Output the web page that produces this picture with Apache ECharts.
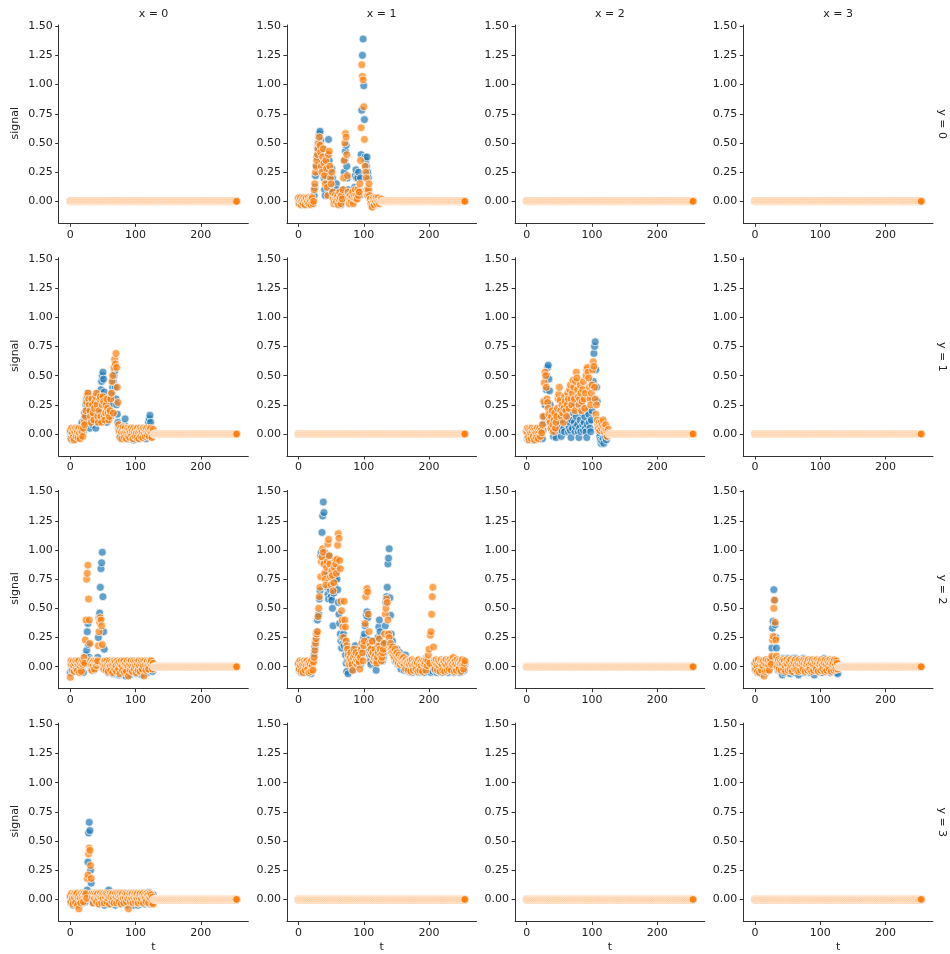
<!DOCTYPE html>
<html><head><meta charset="utf-8">
<script src="https://cdn.jsdelivr.net/npm/echarts@6/dist/echarts.min.js"></script>
<style>html,body{margin:0;padding:0;background:#fff}#c{width:950px;height:954px}</style>
</head><body><div id="c"></div>
<script>
// ---- data ----
const colLabels = ['x = 0','x = 1','x = 2','x = 3'];
const rowLabels = ['y = 0','y = 1','y = 2','y = 3'];
const tTicks = [0,100,200];
const signalTicks = [0,0.25,0.5,0.75,1.0,1.25,1.5];
const tCount = 256;           // t = 0..255, value 0 where not listed
const seriesNames = ['a','b'];

// row y=0, col x=1
const blue_y0_x1 = [.02,-.02,.03,.01,-.03,.02,0,-.02,.03,.01, -.01,.02,-.03,.02,0,.03,-.02,.01,.02,-.01,
 .03,0,-.02,.02,.05,.12,.22,.30,.38,.45, .50,.55,.58,.60,.52,.42,.33,.45,.28,.20,
 .10,.05,.30,.22,.15,.40,.53,.35,.25,.18, .12,.28,.20,.08,.03,0,.02,.05,.15,.10,
 .02,-.02,0,.03,.05,-.03,.02,0,.05,.10, .25,.35,.43,.48,.30,.20,.10,.05,.02,0,
 .03,-.01,.05,0,.02,.08,.12,.22,.27,.20, .08,.20,.25,.10,.05,.20,.40,.78,1.25,1.39,
 .99,.70,.38,.35,.30,.38,.25,.20,.10,.05, .02,0,-.02,.03,-.03,.01,-.02,.02,0,-.03,
 .01,-.02,0,.02,-.01,0,.01,0];
const orange_y0_x1 = [.03,-.02,.01,.03,-.03,0,.02,-.02,.03,.01, -.03,.02,.03,-.01,0,.03,-.02,.02,.01,-.03,
 .02,.03,-.02,0,.10,.15,.25,.30,.35,.40, .45,.50,.55,.48,.42,.30,.25,.38,.45,.33,
 .22,.15,.35,.28,.12,.05,.40,.43,.30,.20, .15,.25,.08,.02,-.02,0,.05,.02,0,.03,
 .05,-.03,.02,.08,.03,-.02,.05,.02,.10,.20, .35,.50,.58,.55,.40,.22,.08,.03,-.02,.05,
 .02,0,.04,.08,-.02,.03,.05,.10,.02,.05, .02,.10,.05,.08,.15,.35,.63,1.17,1.07,1.04,
 .81,.53,.30,.25,.20,.10,.05,.10,.15,.05, .02,-.02,-.04,-.05,.02,.03,-.03,.02,0,.03,
 -.02,.01,.03,0,-.02,.01,0,.02];

// row y=1, col x=0
const blue_y1_x0 = [.02,-.03,.04,-.05,.01,.03,-.02,.05,-.04,.02, -.01,.04,-.03,.02,.05,-.02,.03,.08,.10,.05,
 .02,.12,.18,.15,.25,.30,.22,.35,.28,.10, .05,.20,.30,.12,.08,.25,.18,.30,.15,.05,
 .10,.22,.28,.35,.18,.12,.30,.38,.45,.50, .53,.47,.36,.25,.20,.15,.10,.18,.25,.30,
 .28,.20,.15,.25,.35,.40,.45,.50,.54,.40, .30,.25,.17,.10,.05,.02,-.02,.03,-.04,.05,
 .02,-.03,.04,.08,.13,.05,-.02,.03,.01,-.04, .03,-.02,.05,.02,-.03,.04,.01,-.05,.02,.03,
 -.02,.04,.01,-.03,.05,.02,-.04,.03,0,.02, -.03,.04,.01,-.02,.05,.03,-.04,.02,.04,.06,
 .10,.13,.16,.10,.04,.02,-.02,0];
const orange_y1_x0 = [.03,-.04,.05,.01,-.03,.04,-.05,.02,.05,-.02, .04,.02,-.03,.05,.01,-.04,.03,.05,.02,-.02,
 .05,.10,.08,.15,.20,.27,.33,.35,.30,.25, .20,.15,.10,.30,.25,.18,.12,.22,.28,.32,
 .35,.25,.15,.10,.20,.30,.32,.15,.10,.25, .32,.28,.15,.12,.18,.25,.30,.22,.18,.12,
 .15,.20,.30,.35,.45,.50,.18,.57,.64,.60, .69,.57,.40,.27,.08,.03,-.03,.05,.02,-.04,
 .04,.06,.01,-.03,.05,.02,-.04,.03,.05,-.02, .04,-.03,.02,.05,-.01,.03,-.04,.05,.02,-.02,
 .04,.01,-.03,.05,.02,-.04,.03,.05,-.02,.04, .02,-.03,.05,.01,.04,-.02,.03,.05,-.01,.02,
 .04,-.02,.03,.05,.01,-.03,.02,.04];

// row y=1, col x=2
const blue_y1_x2 = [.03,-.04,.02,-.05,.04,.01,-.03,.05,-.02,.03, -.05,.02,.04,-.03,.01,.05,-.04,.03,-.02,.04,
 .01,-.03,.05,.02,-.04,.03,.09,.15,.25,.28, .38,.50,.57,.59,.47,.37,.25,.15,.08,.03,
 .05,-.02,.03,.10,.02,-.03,.05,.12,.20,.03, .08,.15,.05,-.02,.03,.12,.22,.05,.02,.25,
 .29,.20,.15,.08,.02,.05,.10,.03,-.03,.12, .05,.18,.25,.10,.02,.06,.15,.30,.08,.02,
 -.03,.05,.12,.02,.25,.18,.08,.03,.10,.15, .05,.02,-.03,.08,.20,.17,.10,.05,.02,.12,
 .20,.30,.45,.69,.75,.79,.55,.40,.28,.10, .05,.02,-.02,-.05,-.08,-.06,.03,-.04,-.08,.01,
 -.03,.02,-.05,.01,-.02,.03,0,-.01];
const orange_y1_x2 = [.02,.05,-.03,.04,-.05,.03,.01,-.04,.05,.02, -.02,.04,-.05,.03,.01,-.03,.05,.02,-.04,.03,
 .05,-.02,.03,.01,.08,.15,.28,.44,.53,.50, .40,.30,.27,.22,.17,.12,.10,.05,.15,.20,
 .08,.02,.12,.18,.05,.10,.15,.22,.30,.34, .40,.29,.20,.15,.25,.18,.10,.22,.32,.28,
 .20,.15,.25,.35,.30,.22,.38,.42,.30,.25, .35,.46,.40,.30,.20,.45,.53,.48,.38,.32,
 .25,.30,.42,.35,.20,.28,.38,.45,.30,.22, .35,.50,.55,.57,.53,.48,.40,.30,.25,.35,
 .42,.55,.62,.58,.40,.30,.17,.25,.12,.08, .05,.10,.03,.07,.10,.05,.08,.12,.06,.02,
 .05,.08,.03,-.02,.02,.04,0,.01];

// row y=2, col x=0
const blue_y2_x0 = [-.05,.02,-.03,.04,.01,-.04,.03,.02,-.02,.04, .01,-.03,.05,.02,-.04,.03,.01,-.02,.05,.03,
 -.05,.02,.04,.03,.10,.14,.30,.37,.19,.08, .06,.02,-.02,.04,.01,.05,-.03,.02,.04,.01,
 .03,.05,.08,.25,.42,.46,.68,.84,.89,.98, .60,.30,.15,.05,.02,-.03,.04,.01,-.05,.03,
 .02,-.04,.05,.01,-.03,.04,-.06,.02,.05,-.02, .03,-.05,.01,.04,-.02,-.07,.03,.05,-.04,.01,
 .04,-.06,.02,-.03,.05,-.08,.01,.03,-.04,.05, -.02,.04,-.07,.01,.05,-.03,.02,-.05,.04,.01,
 -.03,.05,-.06,.02,.04,-.02,.03,-.05,.01,.04, -.07,.02,.05,-.03,.01,.04,-.02,.03,-.05,.02,
 .04,-.03,.01,.05,-.02,.03,-.04,.01];
const orange_y2_x0 = [-.09,.05,.02,-.03,.04,.01,-.04,.03,.05,-.02, .04,-.03,.02,.05,-.05,.01,.03,-.04,.05,.02,
 .04,.08,.03,.23,.40,.75,.80,.87,.58,.40, .20,.05,.02,-.03,.04,.01,.05,-.02,.03,.05,
 .01,.04,.05,.18,.30,.38,.42,.40,.35,.19, .03,-.02,.04,.05,.01,-.03,.05,.02,-.04,.03,
 .05,.01,-.03,.04,.02,-.05,.03,.05,-.02,.04, .01,-.04,.05,.03,-.02,.04,-.06,.02,.05,.01,
 -.03,.04,.05,-.05,.02,.03,-.04,.05,.01,-.08, .04,.02,-.03,.05,.01,-.04,.03,.05,-.02,.04,
 .01,-.05,.04,.02,-.03,.05,.01,-.04,.03,.05, -.02,.04,.01,-.08,.05,.02,-.03,.04,.05,.01,
 -.02,.04,.05,.03,.05,.01,-.02,.03];

// row y=2, col x=1 (full range)
const blue_y2_x1 = [.02,-.03,.04,.01,-.05,.03,-.02,.04,-.04,.02, -.05,.03,.01,-.03,.04,-.02,.03,-.04,.02,-.06,
 .01,-.03,.05,.08,.11,.17,.22,.28,.30,.40, .43,.45,.58,.65,.95,.98,1.15,1.29,1.41,1.32,
 .98,.92,.88,.80,.68,.62,.58,.95,.72,.66, .60,.57,.50,.35,.63,.70,.75,.80,.84,.75,
 .66,.55,.45,.37,.28,.22,.16,.25,.20,.28, .18,.22,.10,.03,-.04,.05,-.06,.12,.08,.03,
 .05,.10,.02,-.03,.04,.07,.12,.18,.10,.05, .02,.08,.15,.12,.05,.02,.08,.10,.15,.22,
 .25,.28,.35,.20,.44,.47,.42,.23,.15,.10, .05,.02,.10,.18,.22,.15,.08,.05,.02,-.03,
 .05,.10,.25,.34,.40,.30,.20,.15,.10,.05, .08,.12,.20,.35,.55,.60,.68,.88,.93,1.01,
 .59,.44,.28,.18,.22,.15,.10,.12,.05,.08, .10,.15,.05,.02,.08,.12,.04,-.02,.05,.03,
 .08,.02,-.03,.05,.10,.04,-.02,.03,.06,-.04, .02,.05,-.03,.04,.01,-.05,.03,.02,-.04,.05,
 .01,-.03,.04,.02,-.05,.03,.01,-.04,.05,.02, -.03,.04,.01,-.05,.03,.07,.02,-.04,.05,.01,
 -.03,.04,.02,-.05,.03,.01,-.04,.05,.02,-.03, .04,.01,-.05,.03,.02,-.04,.05,.01,-.03,.04,
 .02,-.05,.03,.01,-.04,.05,.02,-.03,.04,.01, -.05,.03,.02,-.04,.05,.01,-.03,.04,.02,-.05,
 .03,.01,-.04,.05,.02,-.03,.04,.01,-.05,.03, .02,-.04,.05,.01,-.03,.02];
const orange_y2_x1 = [.03,-.02,.05,.01,-.04,.04,.02,-.05,.03,.05, -.03,.04,.01,.05,-.02,.03,-.05,.04,.02,-.04,
 .05,.01,-.03,.04,.08,.14,.20,.24,.28,.30, .43,.50,.60,.68,.77,.90,.94,1.01,.98,.88,
 .80,.75,.70,.85,.90,1.05,1.09,.95,.88,.77, .70,.82,.78,.65,.72,.85,.91,.88,.80,.92,
 1.04,1.14,1.10,.91,.84,.56,.48,.40,.34,.25, .56,.40,.34,.22,.18,.15,.10,.05,.02,.08,
 .12,.05,.02,-.03,.08,.15,.10,.04,.12,.06, .02,.05,.10,.04,-.02,.08,.15,.20,.12,.05,
 .18,.22,.37,.60,.65,.67,.64,.45,.30,.20, .18,.15,.10,.22,.12,.05,.08,.15,.10,.05,
 .03,.08,.12,.18,.24,.15,.10,.05,.08,.12, .15,.20,.28,.45,.50,.58,.55,.40,.28,.25,
 .17,.20,.15,.12,.17,.10,.13,.08,.15,.11, .05,.12,.08,.03,.10,.06,.02,.08,.04,.07,
 .03,.08,.02,.05,-.02,.06,.03,.04,-.03,.05, .02,.05,-.04,.03,.06,.01,-.03,.05,.02,.04,
 -.02,.05,.03,-.04,.06,.02,-.03,.04,.01,.05, -.04,.03,.05,.02,.04,-.03,.06,.01,.05,.10,
 .15,.03,.27,.30,.45,.60,.68,.17,.05,-.02, .04,.06,.02,-.03,.05,.01,.04,-.04,.03,.06,
 .02,-.03,.05,.04,-.04,.02,.06,.01,-.03,.05, .03,-.02,.06,.04,-.03,.05,.02,.08,.04,-.04,
 .05,.02,-.03,.06,.01,.04,-.02,.05,.03,-.04, .04,.06,.01,-.02,.03,.05];

// row y=2, col x=3
const blue_y2_x3 = [.02,-.03,.04,.01,-.05,.03,-.02,.04,-.04,.02, -.06,.03,.01,-.03,.04,-.02,.03,-.05,.02,.05,
 .01,-.03,.04,.02,.05,.07,.16,.33,.39,.66, .57,.36,.25,.16,.05,.02,-.03,.04,.06,.01,
 -.04,.03,-.07,.07,.02,-.05,.04,.01,-.03,.05, .07,-.02,.03,.05,-.06,.02,.04,-.03,.07,.01,
 -.05,.03,.07,.02,-.04,.05,.01,-.07,.03,.04, -.02,.05,.01,-.04,.07,.03,-.05,.02,.04,-.03,
 .01,.05,-.04,.03,.02,-.05,.04,.01,-.03,.05, .02,-.07,.04,.03,-.02,.05,.01,-.04,.03,.05,
 -.03,.02,.04,-.05,.01,.03,.07,-.02,.04,.01, -.04,.05,.02,-.03,.04,.01,-.05,.03,.02,-.04,
 .04,.01,-.03,.05,.02,-.05,.03,-.06];
const orange_y2_x3 = [.03,-.02,.05,.01,-.04,.06,.02,-.05,.03,.05, -.03,.04,.01,.05,-.08,.03,-.04,.06,.02,-.03,
 .05,.01,-.03,.04,.06,.02,.09,.23,.26,.50, .57,.38,.23,.09,0,.04,.06,-.02,.03,.05,
 -.03,.04,.02,.06,-.02,.05,.01,-.04,.03,.06, .02,-.03,.05,.04,-.02,.06,.01,-.04,.03,.05,
 .04,-.02,.06,.01,-.03,.05,.03,-.04,.06,.02, -.03,.05,.01,.04,-.02,.06,.03,-.04,.05,.02,
 .04,-.03,.06,.01,-.02,.05,.03,-.04,.06,.02, -.03,.05,.01,.04,-.02,.06,.03,-.04,.05,.02,
 .04,-.03,.06,.01,-.02,.05,.03,-.04,.06,.02, -.03,.05,.01,.04,-.02,.06,.03,-.04,.05,.02,
 .04,-.03,.06,.01,-.02,.05,.03,-.02];

// row y=3, col x=0
const blue_y3_x0 = [.02,-.03,.04,.01,-.05,.03,-.02,.04,-.04,.02, -.03,.05,.01,-.04,.04,-.02,.03,.05,.02,-.03,
 .01,.05,.04,-.02,.05,.03,.08,.32,.57,.66, .59,.25,.14,.05,.02,-.03,.04,.01,.05,-.02,
 .04,.01,-.03,.05,.02,-.04,.03,.05,.01,-.03, .04,.02,-.05,.03,.01,.05,-.02,.04,.06,.08,
 .05,.02,-.04,.03,.05,.01,-.03,.04,.02,-.05, .03,.05,.01,-.03,.04,.02,-.04,.05,.01,.03,
 -.02,.04,.05,.01,-.04,.03,.02,-.05,.04,.01, .03,-.03,.05,.02,-.04,.04,.01,-.05,.03,.02,
 .05,-.02,.04,.01,-.05,.03,.02,-.04,.05,.01, -.03,.04,.02,.05,-.04,.01,.03,-.02,.05,.04,
 .06,.02,-.04,.03,.01,-.03,.02,.04];
const orange_y3_x0 = [.03,-.02,.05,.01,-.04,.04,.02,.05,-.03,.04, .05,-.05,.02,-.08,.04,.01,-.03,.05,.02,.04,
 -.02,.05,.03,.04,.05,.01,.18,.21,.39,.44, .42,.29,.18,.05,.02,-.03,.05,.01,.04,.05,
 -.02,.04,.05,.01,-.04,.03,.05,.02,-.03,.04, .01,.05,-.03,.04,.02,.05,-.02,.04,.01,.03,
 -.04,.05,.02,.04,-.02,.05,.01,-.03,.04,.05, .02,-.03,.05,.01,.04,-.02,.05,.03,-.04,.04,
 .05,.01,-.03,.04,.02,.05,-.02,.04,.01,-.08, .03,.05,-.02,.04,.01,.05,-.03,.02,.04,.05,
 -.02,.04,.01,.05,-.03,.02,.04,.05,-.02,.01, .04,.05,-.03,.02,.04,.01,-.02,.05,.03,.04,
 -.03,.02,.05,.01,.04,-.03,.02,-.04];

// facet -> [blue values, orange values]; facets not listed are flat at 0
const facetData = {
  '0,1': [blue_y0_x1, orange_y0_x1],
  '1,0': [blue_y1_x0, orange_y1_x0],
  '1,2': [blue_y1_x2, orange_y1_x2],
  '2,0': [blue_y2_x0, orange_y2_x0],
  '2,1': [blue_y2_x1, orange_y2_x1],
  '2,3': [blue_y2_x3, orange_y2_x3],
  '3,0': [blue_y3_x0, orange_y3_x0]
};

// ---- layout / style ----
const FONT = '"DejaVu Sans", sans-serif';
const FS = 11;
const TXT = '#222';
const AX = '#333';
const colors = ['#1f77b4', '#ff7f0e'];
const gridLeft = [58.7, 286.9, 515.1, 743.3];
const gridTop = [25, 257.7, 490.4, 723.1];
const gW = 189.6, gH = 198.3;

function toPoints(vals) {
  const pts = [];
  for (let t = 0; t < tCount; t++) pts.push([t, (vals && t < vals.length) ? vals[t] : 0]);
  return pts;
}

const grid = [], xAxis = [], yAxis = [], series = [], graphic = [];
for (let r = 0; r < 4; r++) {
  for (let c = 0; c < 4; c++) {
    const i = r * 4 + c;
    grid.push({left: gridLeft[c], top: gridTop[r], width: gW, height: gH, containLabel: false});
    const axisCommon = {
      gridIndex: i,
      axisLine: {show: true, onZero: false, lineStyle: {color: AX, width: 1}},
      splitLine: {show: false},
      axisTick: {show: true, length: 3.5, inside: false, lineStyle: {color: AX, width: 1}}
    };
    xAxis.push(Object.assign({}, axisCommon, {
      type: 'value', min: -17.8, max: 272.8,
      axisTick: Object.assign({}, axisCommon.axisTick, {customValues: tTicks}),
      axisLabel: {customValues: tTicks, color: TXT, fontFamily: FONT, fontSize: FS, margin: 6}
    }));
    yAxis.push(Object.assign({}, axisCommon, {
      type: 'value', min: -0.188, max: 1.51,
      axisTick: Object.assign({}, axisCommon.axisTick, {customValues: signalTicks}),
      axisLabel: {customValues: signalTicks, color: TXT, fontFamily: FONT, fontSize: FS, margin: 6,
                  formatter: v => v.toFixed(2)}
    }));
    const d = facetData[r + ',' + c] || [null, null];
    for (let s = 0; s < 2; s++) {
      series.push({
        type: 'scatter', name: seriesNames[s], xAxisIndex: i, yAxisIndex: i,
        data: toPoints(d[s]), symbolSize: 8, silent: true, animation: false,
        itemStyle: {color: colors[s], opacity: 0.7, borderColor: '#fff', borderWidth: 1},
        emphasis: {disabled: true}
      });
    }
  }
}
const font = FS + 'px ' + FONT;
for (let c = 0; c < 4; c++) {
  graphic.push({type: 'text', x: gridLeft[c] + gW / 2, y: 14,
    style: {text: colLabels[c], font, fill: TXT, align: 'center', verticalAlign: 'middle'}});
  graphic.push({type: 'text', x: gridLeft[c] + gW / 2, y: 947,
    style: {text: 't', font, fill: TXT, align: 'center', verticalAlign: 'middle'}});
}
for (let r = 0; r < 4; r++) {
  graphic.push({type: 'text', x: 942, y: gridTop[r] + gH / 2, rotation: -Math.PI / 2,
    style: {text: rowLabels[r], font, fill: TXT, align: 'center', verticalAlign: 'middle'}});
  graphic.push({type: 'text', x: 15, y: gridTop[r] + gH / 2 - 1, rotation: Math.PI / 2,
    style: {text: 'signal', font, fill: TXT, align: 'center', verticalAlign: 'middle'}});
}

const chart = echarts.init(document.getElementById('c'), null, {renderer: 'canvas'});
chart.setOption({animation: false, backgroundColor: '#fff', grid, xAxis, yAxis, series, graphic});
</script></body></html>
